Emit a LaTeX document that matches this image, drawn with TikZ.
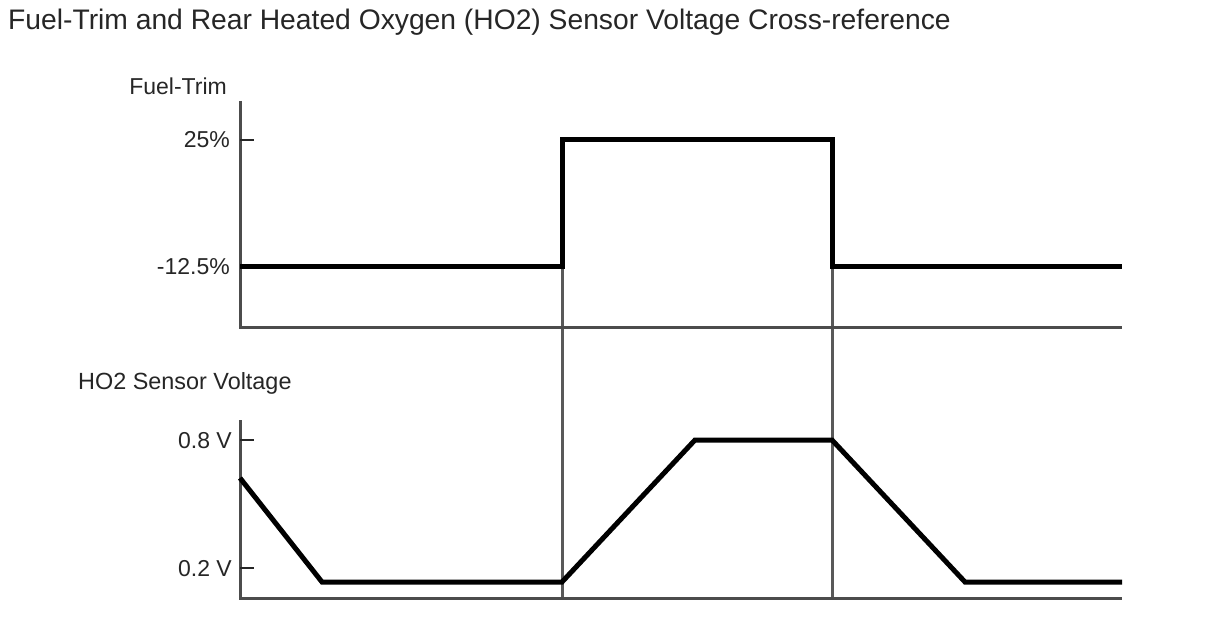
\documentclass[tikz,border=0pt]{standalone}
\usepackage{fontspec}
\setmainfont{Liberation Sans}
\begin{document}
\begin{tikzpicture}[x=1pt, y=-1pt,
		lbl/.style={inner sep=0pt, text=black!85, font=\fontsize{23}{27}\selectfont},
		axis/.style={draw=black!70, line width=3pt},
		guide/.style={draw=black!65, line width=3pt},
		trace/.style={draw=black, line width=5pt},
		tickmark/.style={draw=black!85, line width=2pt}]
		\useasboundingbox[fill=white] (0,0) rectangle (1208,644);
		
		\node[lbl, anchor=base west, font=\fontsize{28.25}{34}\selectfont] (title) at (8,30) {Fuel-Trim and Rear Heated Oxygen (HO2) Sensor Voltage Cross-reference};
		
		\coordinate (rise) at (562,140);
		\coordinate (fall) at (832,140);
		\path[guide] (rise) -- (562,598);
		\path[guide] (fall) -- (832,598);
		
		% fuel trim
		\path[axis] (240,101) -- (240,328) -- (1122,328);
		\path[tickmark] (240,140) -- (254,140);
		\node[lbl, anchor=base east] (ftname) at (227,95) {Fuel-Trim};
		\node[lbl, anchor=base east] (fthi) at (230,148) {25\%};
		\node[lbl, anchor=base east] (ftlo) at (230,275) {-12.5\%};
		\path[trace] (240,267) -- (562,267) -- (rise) -- (fall) -- (832,267) -- (1122,267);
		
		% HO2 sensor
		\path[axis] (240,420) -- (240,598) -- (1122,598);
		\path[tickmark] (240,440) -- (254,440);
		\path[tickmark] (240,568) -- (254,568);
		\node[lbl, anchor=base west, font=\fontsize{23.4}{27}\selectfont] (honame) at (78,389) {HO2 Sensor Voltage};
		\node[lbl, anchor=base east] (hohi) at (232,448) {0.8 V};
		\node[lbl, anchor=base east] (holo) at (232,576) {0.2 V};
		\path[trace] (240,478) -- (322,582) -- (562,582) -- (695,440) -- (832,440) -- (965,582) -- (1122,582);
	\end{tikzpicture}
\end{document}
